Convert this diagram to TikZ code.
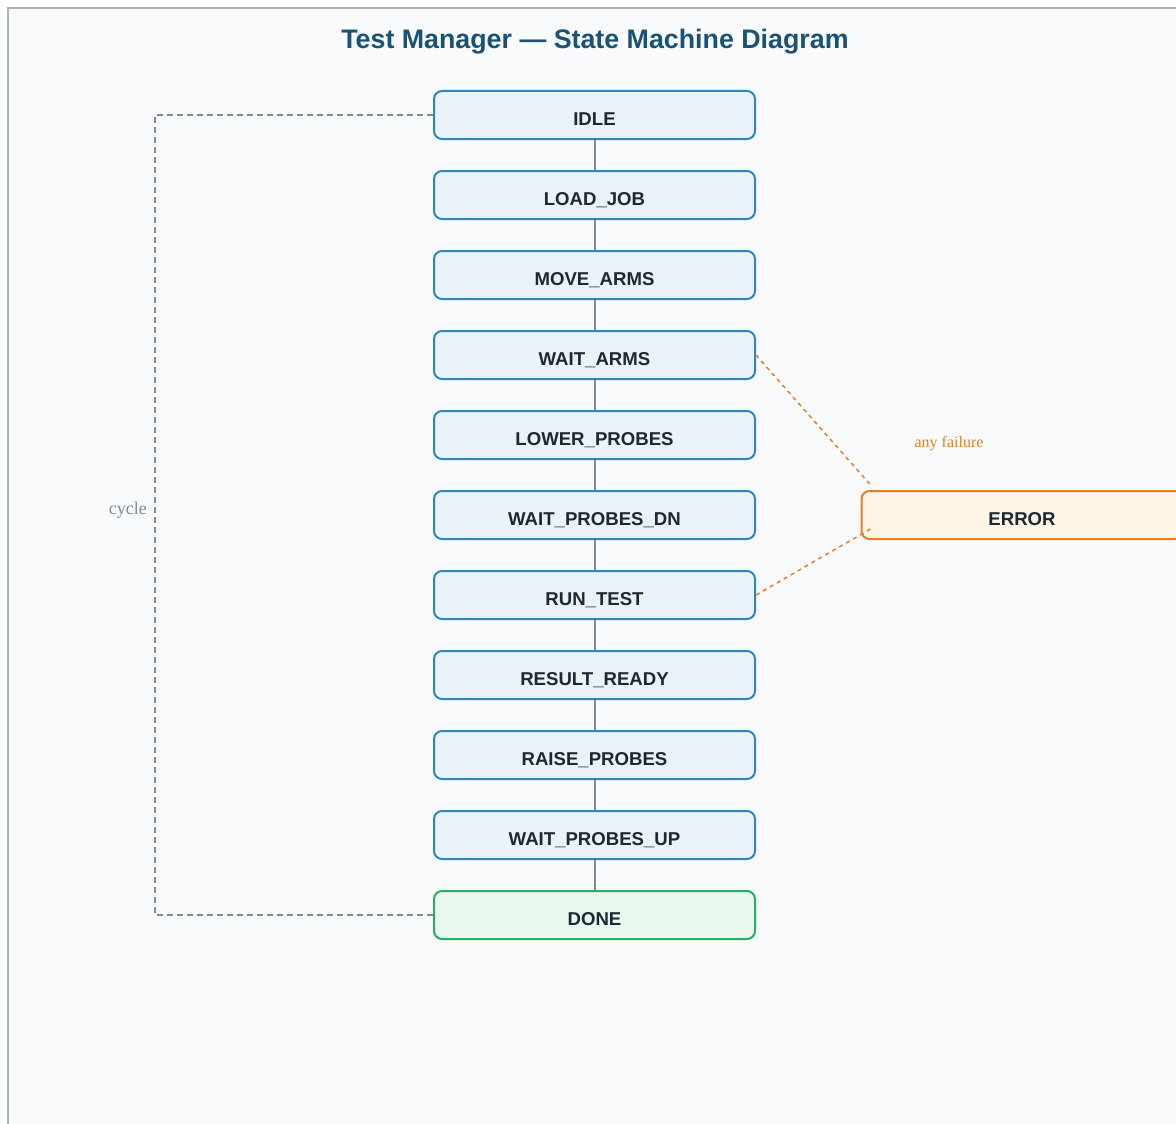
\documentclass[tikz,border=0pt]{standalone}
\usepackage{fontspec}
\setmainfont{Liberation Serif}
\setsansfont{Liberation Sans}
\usetikzlibrary{calc}
\definecolor{panelbg}{HTML}{F8FAFC}
\definecolor{panelline}{HTML}{A9B0B6}
\definecolor{titlecol}{HTML}{1A5276}
\definecolor{txtcol}{HTML}{1C2833}
\definecolor{stfill}{HTML}{EBF2F8}
\definecolor{stline}{HTML}{2E86C1}
\definecolor{donefill}{HTML}{E9F7EF}
\definecolor{doneline}{HTML}{27AE60}
\definecolor{errfill}{HTML}{FEF5E6}
\definecolor{errline}{HTML}{E67E22}
\definecolor{conn}{HTML}{808B96}
\tikzset{
  statebox/.style={draw=stline, fill=stfill, line width=2pt, rounded corners=8pt,
    minimum width=321pt, minimum height=48pt, inner sep=0pt,
    text height=20pt, text depth=0pt,
    font=\sffamily\bfseries\fontsize{18.6}{20}\selectfont, text=txtcol},
  donebox/.style={statebox, draw=doneline, fill=donefill},
  errbox/.style={statebox, draw=errline, fill=errfill},
  seqline/.style={draw=conn, line width=2pt},
  cycleline/.style={draw=conn, line width=1.6pt, dash pattern=on 6pt off 4pt},
  failline/.style={draw=errline, line width=1.5pt, dash pattern=on 4pt off 4pt},
}
\begin{document}
\begin{tikzpicture}[x=1pt,y=-1pt]
\useasboundingbox (0,0) rectangle (1176,1124);
\clip (0,0) rectangle (1176,1124);
\fill[white] (0,0) rectangle (1176,1124);
\draw[panelline, fill=panelbg, line width=1.5pt] (8,8) rectangle (1200,1150);
\node[font=\sffamily\bfseries\fontsize{26.8}{30}\selectfont, text=titlecol] (title) at (595,41.5) {Test Manager — State Machine Diagram};

\node[statebox] (s0) at (594.5,115) {IDLE};
\node[statebox] (s1) at (594.5,195) {LOAD\_JOB};
\node[statebox] (s2) at (594.5,275) {MOVE\_ARMS};
\node[statebox] (s3) at (594.5,355) {WAIT\_ARMS};
\node[statebox] (s4) at (594.5,435) {LOWER\_PROBES};
\node[statebox] (s5) at (594.5,515) {WAIT\_PROBES\_DN};
\node[statebox] (s6) at (594.5,595) {RUN\_TEST};
\node[statebox] (s7) at (594.5,675) {RESULT\_READY};
\node[statebox] (s8) at (594.5,755) {RAISE\_PROBES};
\node[statebox] (s9) at (594.5,835) {WAIT\_PROBES\_UP};
\node[donebox] (s10) at (594.5,915) {DONE};
\node[errbox] (err) at (1022,515) {ERROR};

\foreach \a/\b in {s0/s1,s1/s2,s2/s3,s3/s4,s4/s5,s5/s6,s6/s7,s7/s8,s8/s9,s9/s10}
  \draw[seqline] (\a.south) -- (\b.north);

\coordinate (cyc) at (155,0);
\draw[cycleline] (s0.west) -| (cyc |- s10.west) -- (s10.west);
\node[font=\fontsize{18}{20}\selectfont, text=conn, anchor=east] (cyclbl) at (150.5,510) {cycle};

\coordinate (e1) at ($(err.north west)+(11,-4)$);
\coordinate (e2) at ($(err.north west)+(10,39)$);
\draw[failline] (s3.east) -- (e1);
\draw[failline] (s6.east) -- (e2);
\node[font=\fontsize{16}{18}\selectfont, text=errline] (faillbl) at (949,444) {any failure};
\end{tikzpicture}
\end{document}
